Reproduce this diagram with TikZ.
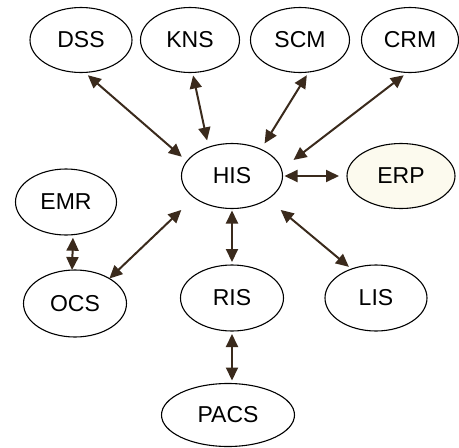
\documentclass[tikz,border=0pt]{standalone}
\usepackage{fontspec}
\setmainfont{Liberation Sans}
\usetikzlibrary{shapes.geometric,arrows.meta}
\definecolor{arrowbrown}{HTML}{3A2A1C}
\definecolor{erpfill}{HTML}{FCFAEE}
\begin{document}
\begin{tikzpicture}[x=1pt,y=-1pt]
      \tikzstyle{every node}=[font=\fontsize{23}{26}\selectfont]
      \tikzstyle{sys}=[draw,ellipse,line width=1.1pt,inner sep=0pt,outer sep=3pt,minimum width=101pt,minimum height=65pt]
      \tikzstyle{link}=[{Triangle[length=13pt,width=12pt]}-{Triangle[length=13pt,width=12pt]},line width=2pt,draw=arrowbrown,fill=arrowbrown]
      \useasboundingbox (0,0) rectangle (459,448);
      %%% top row
      \node[sys,minimum width=102pt] (DSS) at (81,40) {DSS};
      \node[sys,minimum width=99pt] (KNS) at (190,40) {KNS};
      \node[sys,minimum width=99pt] (SCM) at (300,40) {SCM};
      \node[sys,minimum width=97pt] (CRM) at (410,40) {CRM};
      %% hub
      \node[sys,outer sep=7pt] (HIS) at (232,176) {HIS};
      \node[sys,fill=erpfill,minimum width=108pt] (ERP) at (401,176) {ERP};
      % left side
      \node[sys,minimum height=66pt] (EMR) at (66,202) {EMR};
      \node[sys,outer sep=0pt,minimum width=103pt,minimum height=67pt] (OCS) at (75,303.5) {OCS};
      % bottom
      \node[sys,minimum width=103pt,minimum height=66pt] (RIS) at (232,298) {RIS};
      \node[sys,minimum width=102pt,minimum height=66pt] (LIS) at (376,298) {LIS};
      \node[sys,minimum width=133pt,minimum height=63pt] (PACS) at (228,415) {PACS};
      %% links
      \draw[link] (DSS.-79) -- (HIS.159);
      \draw[link] (KNS.-85) -- (HIS.125);
      \draw[link] (SCM.-79) -- (HIS.45);
      \draw[link] (CRM.-100) -- ([xshift=9pt]HIS.17);
      \draw[link] ([xshift=-5pt]HIS.east) -- ([xshift=-5pt]ERP.west);
      \draw[link] (EMR.-79) -- (OCS.95);
      \draw[link] (OCS.36) -- ([xshift=-10pt,yshift=-6pt]HIS.south west);
      \draw[link] ([yshift=5pt]HIS.south) -- (RIS.north);
      \draw[link] ([xshift=8pt,yshift=-6pt]HIS.south east) -- (LIS.131);
      \draw[link] (RIS.south) -- (RIS.south |- PACS.north);
\end{tikzpicture}
\end{document}
